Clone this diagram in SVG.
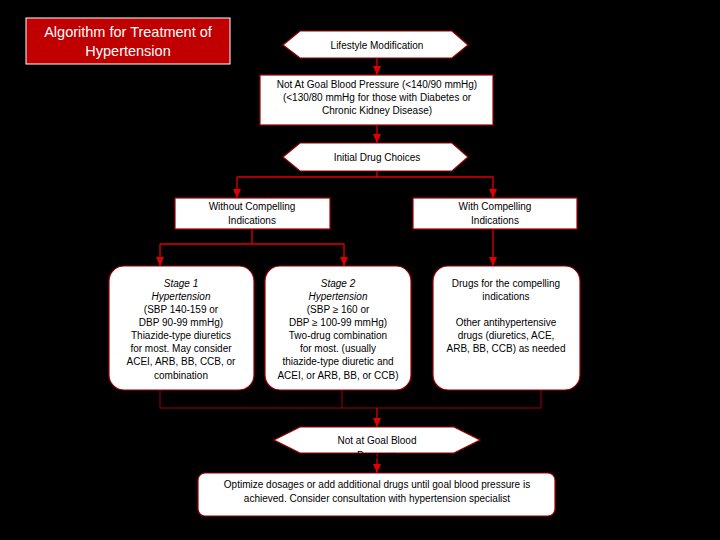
<svg xmlns="http://www.w3.org/2000/svg" width="720" height="540" viewBox="0 0 720 540">
<defs>
<marker id="ah" markerWidth="9" markerHeight="8" refX="9" refY="4" orient="auto" markerUnits="userSpaceOnUse">
<path d="M0,0 L9,4 L0,8 z" fill="#e00000"/>
</marker>
<style>
.box{fill:#fff;stroke:#a00000;stroke-width:1.2}
.t{font-family:"Liberation Sans",Arial,sans-serif;font-size:10px;fill:#000;text-anchor:middle}
.i{font-style:italic}
.c{fill:none;stroke:#e00000;stroke-width:1.3}
.c2{fill:none;stroke:#a00000;stroke-width:1}
</style>
</defs>
<rect width="720" height="540" fill="#000"/>
<g id="title">
<rect x="26" y="18" width="204" height="46" fill="#c00000" stroke="#fff" stroke-width="1"/>
<text x="128" y="37" font-family="Liberation Sans,Arial,sans-serif" font-size="14.5" fill="#fff" text-anchor="middle">Algorithm for Treatment of</text>
<text x="128" y="56" font-family="Liberation Sans,Arial,sans-serif" font-size="14.5" fill="#fff" text-anchor="middle">Hypertension</text>
</g>
<g id="connectors">
<line class="c" x1="377" y1="58" x2="377" y2="75" marker-end="url(#ah)"/>
<line class="c" x1="377" y1="125" x2="377" y2="143" marker-end="url(#ah)"/>
<polyline class="c" points="377,171 377,177"/>
<polyline class="c" points="237,177 493,177 493,198" marker-end="url(#ah)"/>
<line class="c" x1="237" y1="177" x2="237" y2="198" marker-end="url(#ah)"/>
<polyline class="c" points="252,229 252,244"/>
<polyline class="c" points="160,244 344,244 344,266" marker-end="url(#ah)"/>
<line class="c" x1="160" y1="244" x2="160" y2="266" marker-end="url(#ah)"/>
<line class="c" x1="493" y1="229" x2="493" y2="266" marker-end="url(#ah)"/>
<polyline class="c2" points="160,390 160,408 541,408 541,390"/>
<line class="c2" x1="342" y1="390" x2="342" y2="408"/>
<line class="c" x1="377" y1="408" x2="377" y2="427" marker-end="url(#ah)"/>
<line class="c" x1="377" y1="453" x2="377" y2="473" marker-end="url(#ah)"/>
</g>
<g id="lifestyle">
<polygon class="box" points="283,45 300,31 452,31 468,45 452,58 300,58"/>
<text class="t" x="377" y="49">Lifestyle Modification</text>
</g>
<g id="not-at-goal">
<rect class="box" x="260" y="75" width="233" height="50"/>
<text class="t" x="377" y="88">Not At Goal Blood Pressure (&lt;140/90 mmHg)</text>
<text class="t" x="377" y="101">(&lt;130/80 mmHg for those with Diabetes or</text>
<text class="t" x="377" y="114">Chronic Kidney Disease)</text>
</g>
<g id="initial">
<polygon class="box" points="283,157 300,143 452,143 468,157 452,171 300,171"/>
<text class="t" x="377" y="161">Initial Drug Choices</text>
</g>
<g id="without">
<rect class="box" x="175" y="198" width="155" height="31"/>
<text class="t" x="252" y="210">Without Compelling</text>
<text class="t" x="252" y="224">Indications</text>
</g>
<g id="with">
<rect class="box" x="413" y="198" width="164" height="31"/>
<text class="t" x="495" y="210">With Compelling</text>
<text class="t" x="495" y="224">Indications</text>
</g>
<g id="stage1">
<rect class="box" x="109" y="266" width="145" height="124" rx="15"/>
<text class="t i" x="181" y="287">Stage 1</text>
<text class="t i" x="181" y="300">Hypertension</text>
<text class="t" x="181" y="313">(SBP 140-159 or</text>
<text class="t" x="181" y="326">DBP 90-99 mmHg)</text>
<text class="t" x="181" y="339">Thiazide-type diuretics</text>
<text class="t" x="181" y="352">for most. May consider</text>
<text class="t" x="181" y="365">ACEI, ARB, BB, CCB, or</text>
<text class="t" x="181" y="379">combination</text>
</g>
<g id="stage2">
<rect class="box" x="265" y="266" width="146" height="124" rx="15"/>
<text class="t i" x="338" y="287">Stage 2</text>
<text class="t i" x="338" y="300">Hypertension</text>
<text class="t" x="338" y="313">(SBP ≥ 160 or</text>
<text class="t" x="338" y="326">DBP ≥ 100-99 mmHg)</text>
<text class="t" x="338" y="339">Two-drug combination</text>
<text class="t" x="338" y="352">for most. (usually</text>
<text class="t" x="338" y="365">thiazide-type diuretic and</text>
<text class="t" x="338" y="379">ACEI, or ARB, BB, or CCB)</text>
</g>
<g id="compelling-drugs">
<rect class="box" x="433" y="266" width="147" height="124" rx="15"/>
<text class="t" x="506" y="287">Drugs for the compelling</text>
<text class="t" x="506" y="300">indications</text>
<text class="t" x="506" y="326">Other antihypertensive</text>
<text class="t" x="506" y="339">drugs (diuretics, ACE,</text>
<text class="t" x="506" y="352">ARB, BB, CCB) as needed</text>
</g>
<g id="not-at-goal-2">
<polygon class="box" points="274,440 300,427 454,427 480,440 454,453 300,453"/>
<text class="t" x="377" y="444">Not at Goal Blood</text>
<text class="t" x="377" y="459">Pressure</text>
</g>
<g id="optimize">
<rect class="box" x="198" y="473" width="357" height="43" rx="7"/>
<text class="t" x="377" y="488">Optimize dosages or add additional drugs until goal blood pressure is</text>
<text class="t" x="377" y="502">achieved. Consider consultation with hypertension specialist</text>
</g>
</svg>
